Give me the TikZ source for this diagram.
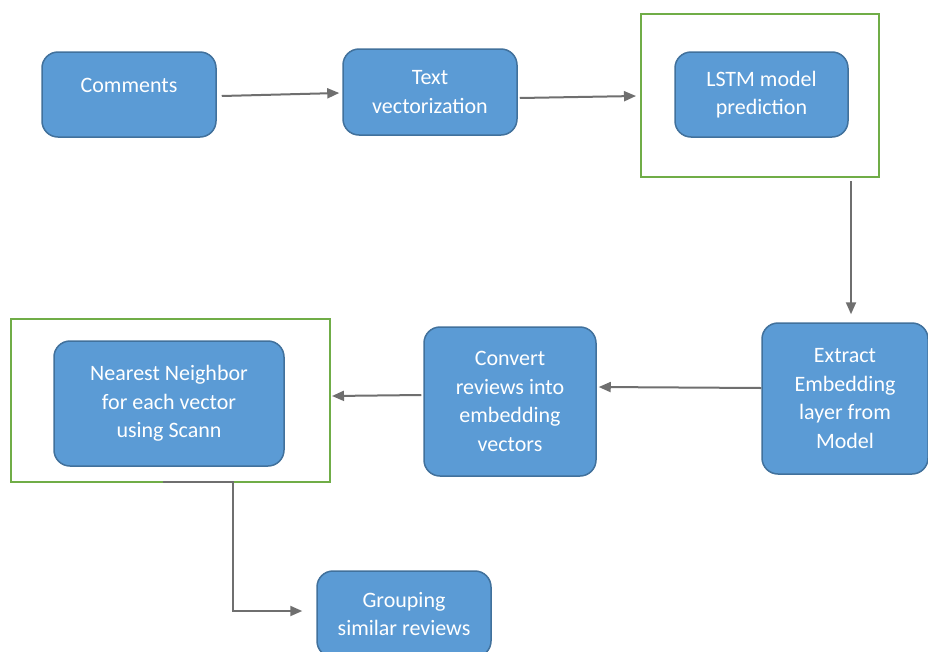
\documentclass[tikz,border=0pt]{standalone}
\usepackage{fontspec}
\setmainfont{Carlito}
\usetikzlibrary{arrows.meta,calc}
\definecolor{boxfill}{HTML}{5B9BD5}
\definecolor{boxline}{HTML}{41719C}
\definecolor{frameg}{HTML}{70AD47}
\definecolor{arrg}{HTML}{6F6F6F}
\begin{document}
\begin{tikzpicture}[x=1pt,y=-1pt,
  stepbox/.style={rectangle, rounded corners=16pt, fill=boxfill, draw=boxline, line width=1.5pt,
    text=white, align=center, inner sep=0pt,
    font=\fontsize{22pt}{28.5pt}\selectfont},
  framebox/.style={rectangle, draw=frameg, line width=2pt, inner sep=0pt},
  arr/.style={draw=arrg, line width=2pt, -{Triangle[length=12pt,width=10pt]}, arrg}
]
\clip (0,0) rectangle (928,651);
\fill[white] (0,0) rectangle (928,651);
% frames
\node[framebox, minimum width=238pt, minimum height=163pt] (g1) at (760,95.5) {};
\node[framebox, minimum width=319pt, minimum height=163pt] (g2) at (170.5,400.5) {};
% boxes
\node[stepbox, minimum width=174pt, minimum height=85pt] (com) at (129,94.5) {\raisebox{2pt}[0pt][0pt]{Comments}};
\node[stepbox, minimum width=174pt, minimum height=86pt] (tv) at (430,92) {Text\\vectorization};
\node[stepbox, minimum width=173pt, minimum height=85pt] (lstm) at (761.5,94.5) {LSTM model\\prediction};
\node[stepbox, minimum width=166pt, minimum height=151pt] (ex) at (845,398.5) {Extract\\Embedding\\layer from\\Model};
\node[stepbox, minimum width=172pt, minimum height=149pt] (cv) at (510,401.5) {Convert\\reviews into\\embedding\\vectors};
\node[stepbox, minimum width=230pt, minimum height=125pt] (nn) at (169,403.5) {Nearest Neighbor\\for each vector\\using Scann};
\node[stepbox, minimum width=174pt, minimum height=86pt] (gr) at (404,614) {Grouping\\similar reviews};
% connectors
\coordinate (s0) at ($(g2.south)+(-7.5,-1)$);
\draw[arr] ($(com.east)+(5,1.5)$) -- ($(tv.west)+(-3,1)$);
\draw[arr] ($(tv.east)+(2,6)$) -- ($(g1.west)+(-4,0.5)$);
\draw[arr] ($(g1.south)+(91,3)$) -- ($(ex.north)+(6,-8)$);
\draw[arr] ($(ex.west)+(0,-10.5)$) -- ($(cv.east)+(2,-14.5)$);
\draw[arr] ($(cv.west)+(-2,-6.5)$) -- ($(g2.east)+(1,-4.5)$);
\draw[arr] (s0) -- ++(70,0) |- ($(gr.west)+(-14,-3)$);
\end{tikzpicture}
\end{document}
